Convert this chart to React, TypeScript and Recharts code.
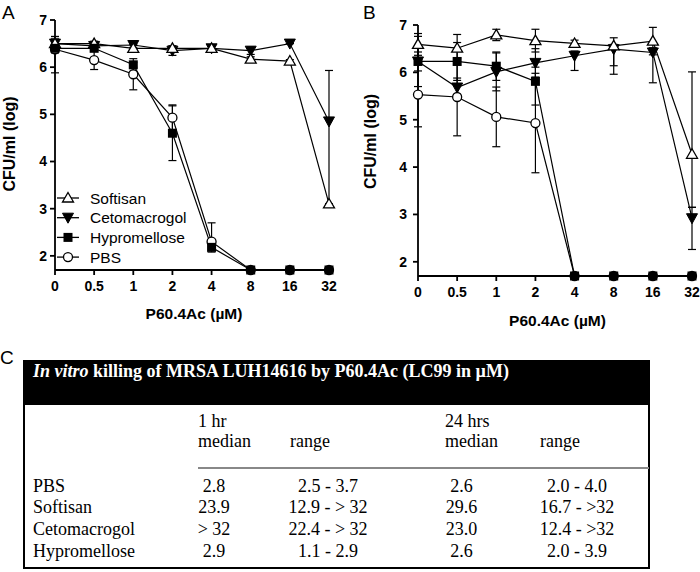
import React from "react";
import { LineChart, Line, XAxis, YAxis, ErrorBar, Legend } from "recharts";

const doses = ["0", "0.5", "1", "2", "4", "8", "16", "32"];
const yTicks = [2, 3, 4, 5, 6, 7];
const legendNames = ["Softisan", "Cetomacrogol", "Hypromellose", "PBS"];
// drawing order (later ones sit on top)
const drawOrder = ["PBS", "Cetomacrogol", "Softisan", "Hypromellose"];

// A: log CFU/ml, errors as [below, above]
const softisanA = [6.5, 6.5, 6.4, 6.4, 6.4, 6.17, 6.13, 3.1];
const cetomacrogolA = [6.5, 6.45, 6.47, 6.35, 6.4, 6.35, 6.5, 4.85];
const hypromelloseA = [6.4, 6.4, 6.05, 4.6, 2.18, 1.7, 1.7, 1.7];
const pbsA = [6.38, 6.15, 5.85, 4.93, 2.3, 1.7, 1.7, 1.7];
const softisanErrA = [[0.15, 0.15], [0.05, 0.05], [0.08, 0.08], [0.05, 0.05], [0.05, 0.05], [0.05, 0.05], [0.03, 0.03], [0, 0]];
const cetomacrogolErrA = [[0.1, 0.1], [0.05, 0.05], [0.05, 0.05], [0.1, 0.1], [0.05, 0.05], [0.08, 0.08], [0, 0], [1.75, 1.08]];
const hypromelloseErrA = [[0.1, 0.1], [0.05, 0.05], [0.05, 0.05], [0.58, 0.58], [0.1, 0.1], [0, 0], [0, 0], [0, 0]];
const pbsErrA = [[0.5, 0.27], [0.2, 0.2], [0.33, 0.33], [0.27, 0.27], [0, 0.4], [0, 0], [0, 0], [0, 0]];

// B
const softisanB = [6.59, 6.51, 6.79, 6.67, 6.61, 6.56, 6.66, 4.27];
const cetomacrogolB = [6.23, 5.68, 6.01, 6.2, 6.35, 6.49, 6.42, 2.92];
const hypromelloseB = [6.23, 6.23, 6.13, 5.81, 1.7, 1.7, 1.7, 1.7];
const pbsB = [5.53, 5.48, 5.06, 4.93, 1.7, 1.7, 1.7, 1.7];
const softisanErrB = [[0.23, 0.23], [0.29, 0.29], [0.12, 0.12], [0.24, 0.24], [0.07, 0.07], [0.42, 0.17], [0.29, 0.29], [1.12, 1.74]];
const cetomacrogolErrB = [[0.2, 0.2], [0.2, 0.2], [0.4, 0.4], [0.3, 0.3], [0.31, 0.1], [0.53, 0.1], [0.64, 0.1], [0.66, 0.23]];
const hypromelloseErrB = [[0.53, 0.53], [0.4, 0.4], [0.3, 0.3], [0.5, 0.3], [0, 0], [0, 0], [0, 0], [0, 0]];
const pbsErrB = [[0.68, 0.68], [0.82, 0.82], [0.63, 0.63], [1.05, 1.05], [0, 0], [0, 0], [0, 0], [0, 0]];

// table C
const tableTitle = "killing of MRSA LUH14616 by P60.4Ac (LC99 in \u00b5M)";
const tableRows = ["PBS", "Softisan", "Cetomacrogol", "Hypromellose"];
const median1h = ["2.8", "23.9", "> 32", "2.9"];
const range1h = ["2.5 - 3.7", "12.9 - > 32", "22.4 - > 32", "1.1 - 2.9"];
const median24h = ["2.6", "29.6", "23.0", "2.6"];
const range24h = ["2.0 - 4.0", "16.7 - >32", "12.4 - >32", "2.0 - 3.9"];

const sans = "'Liberation Sans', Arial, sans-serif";
const serif = "'Liberation Serif', 'Times New Roman', serif";

function buildRows(vals: Record<string, number[]>, errs: Record<string, number[][]>) {
  return doses.map((d, i) => {
    const row: any = { dose: d };
    legendNames.forEach((n) => {
      row[n] = vals[n][i];
      row[n + "Err"] = errs[n][i];
    });
    return row;
  });
}

const rowsA = buildRows(
  { Softisan: softisanA, Cetomacrogol: cetomacrogolA, Hypromellose: hypromelloseA, PBS: pbsA },
  { Softisan: softisanErrA, Cetomacrogol: cetomacrogolErrA, Hypromellose: hypromelloseErrA, PBS: pbsErrA }
);
const rowsB = buildRows(
  { Softisan: softisanB, Cetomacrogol: cetomacrogolB, Hypromellose: hypromelloseB, PBS: pbsB },
  { Softisan: softisanErrB, Cetomacrogol: cetomacrogolErrB, Hypromellose: hypromelloseErrB, PBS: pbsErrB }
);

function Marker({ kind, cx, cy }: { kind: string; cx?: number; cy?: number }) {
  if (cx == null || cy == null) return null;
  if (kind === "Softisan")
    return <polygon points={`${cx},${cy - 5.5} ${cx + 5.5},${cy + 4} ${cx - 5.5},${cy + 4}`} fill="#fff" stroke="#000" strokeWidth={1.3} />;
  if (kind === "Cetomacrogol")
    return <polygon points={`${cx - 5.5},${cy - 4.5} ${cx + 5.5},${cy - 4.5} ${cx},${cy + 5.5}`} fill="#000" stroke="#000" strokeWidth={1} />;
  if (kind === "Hypromellose")
    return <rect x={cx - 4.5} y={cy - 4.5} width={9} height={9} fill="#000" />;
  return <circle cx={cx} cy={cy} r={4.5} fill="#fff" stroke="#000" strokeWidth={1.3} />;
}

const tickStyle = { fill: "#000", fontSize: 14, fontWeight: "bold", fontFamily: sans };
const axisStyle = { stroke: "#000", strokeWidth: 1.8 };

function renderLegend() {
  return (
    <svg width={150} height={84}>
      {legendNames.map((n, i) => {
        const y = 12 + i * 19.7;
        return (
          <g key={n}>
            <line x1={2} x2={24} y1={y} y2={y} stroke="#000" strokeWidth={1.3} />
            <Marker kind={n} cx={13} cy={y} />
            <text x={35} y={y + 5.5} fontSize={15.5} fontFamily={sans} fill="#000">{n}</text>
          </g>
        );
      })}
    </svg>
  );
}

function Panel(props: {
  rows: any[]; height: number; top: number; yAxisWidth: number; right: number; padRight: number;
  xAxisHeight: number; yTitleDx: number; yTitleDy: number; xTitleOffset: number; yTickMargin: number; legend?: boolean;
}) {
  const p = props;
  return (
    <LineChart width={350} height={p.height} data={p.rows} margin={{ top: p.top, right: p.right, bottom: 0, left: 0 }}>
      <XAxis
        dataKey="dose"
        interval={0}
        padding={{ left: 0, right: p.padRight }}
        height={p.xAxisHeight}
        tickSize={5}
        tickMargin={6}
        tick={tickStyle}
        axisLine={axisStyle}
        tickLine={axisStyle}
        label={{ value: "P60.4Ac (\u00b5M)", position: "insideBottom", offset: p.xTitleOffset, style: { fontSize: 15.5, fontWeight: "bold", fontFamily: sans, fill: "#000" } }}
      />
      <YAxis
        type="number"
        domain={[1.7, 7]}
        ticks={yTicks}
        width={p.yAxisWidth}
        tickSize={5}
        tickMargin={p.yTickMargin}
        tick={tickStyle}
        axisLine={axisStyle}
        tickLine={axisStyle}
        label={{ value: "CFU/ml (log)", angle: -90, position: "insideLeft", offset: 0, dx: p.yTitleDx, dy: p.yTitleDy, style: { textAnchor: "middle", fontSize: 16, fontWeight: "bold", fontFamily: sans, fill: "#000" } }}
      />
      {drawOrder.map((n) => (
        <Line
          key={n}
          dataKey={n}
          stroke="#000"
          strokeWidth={1.2}
          isAnimationActive={false}
          activeDot={false}
          dot={(d: any) => <Marker key={`${n}-${d.index}`} kind={n} cx={d.cx} cy={d.cy} />}
        >
          <ErrorBar dataKey={n + "Err"} width={4} stroke="#000" strokeWidth={1.2} isAnimationActive={false} />
        </Line>
      ))}
      {p.legend && (
        <Legend
          layout="vertical"
          align="center"
          verticalAlign="middle"
          content={renderLegend}
          wrapperStyle={{ left: 55, top: 186, width: 150, height: 84 }}
        />
      )}
    </LineChart>
  );
}

export default function App() {
  const rowY = [492, 513, 535, 557];
  return (
    <div style={{ position: "absolute", left: 0, top: 0, width: 700, height: 572, background: "#fff", overflow: "hidden" }}>
      <div style={{ position: "absolute", left: 0, top: 0 }}>
        <Panel rows={rowsA} height={330} top={20} yAxisWidth={55} right={17} padRight={4} xAxisHeight={60}
          yTitleDx={9} yTitleDy={-1} xTitleOffset={11} yTickMargin={3} legend />
      </div>
      <div style={{ position: "absolute", left: 350, top: 0 }}>
        <Panel rows={rowsB} height={340} top={25} yAxisWidth={68} right={3} padRight={5} xAxisHeight={64}
          yTitleDx={20} yTitleDy={-9} xTitleOffset={14} yTickMargin={6} />
      </div>
      <svg width={700} height={572} style={{ position: "absolute", left: 0, top: 0, pointerEvents: "none" }}>
        <g fontFamily={sans} fontSize={19} fill="#000">
          <text x={2} y={18.5}>A</text>
          <text x={363} y={18.5}>B</text>
          <text x={0} y={364}>C</text>
        </g>
        <rect x={23} y={360} width={627} height={44} fill="#000" />
        <rect x={24} y={404} width={625} height={164} fill="none" stroke="#000" strokeWidth={2} />
        <line x1={198} x2={649} y1={468} y2={468} stroke="#888" strokeWidth={2} />
        <g fontFamily={serif} fontSize={18} fill="#000">
          <text x={33} y={377} fill="#fff" fontWeight="bold">
            <tspan fontStyle="italic">In vitro</tspan> {tableTitle}
          </text>
          <text x={198} y={427}>1 hr</text>
          <text x={198} y={447}>median</text>
          <text x={290} y={447}>range</text>
          <text x={445} y={427}>24 hrs</text>
          <text x={445} y={447}>median</text>
          <text x={540} y={447}>range</text>
          {tableRows.map((r, i) => (
            <g key={r}>
              <text x={33} y={rowY[i]}>{r}</text>
              <text x={214} y={rowY[i]} textAnchor="middle">{median1h[i]}</text>
              <text x={328} y={rowY[i]} textAnchor="middle">{range1h[i]}</text>
              <text x={461.5} y={rowY[i]} textAnchor="middle">{median24h[i]}</text>
              <text x={577} y={rowY[i]} textAnchor="middle">{range24h[i]}</text>
            </g>
          ))}
        </g>
      </svg>
    </div>
  );
}
